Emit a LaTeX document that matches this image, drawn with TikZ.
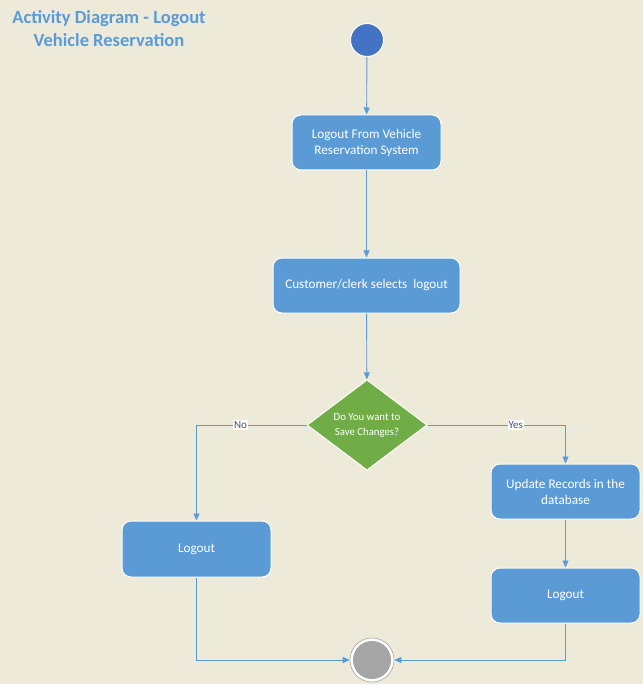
\documentclass[tikz,border=0pt]{standalone}
\usepackage{fontspec}
\setmainfont{Carlito}
\usetikzlibrary{arrows.meta,shapes.geometric}
\definecolor{bg}{HTML}{EDEADA}
\definecolor{boxblue}{HTML}{5B9BD5}
\definecolor{startblue}{HTML}{4472C4}
\definecolor{dgreen}{HTML}{70AD47}
\definecolor{endgray}{HTML}{A5A5A5}
\definecolor{lineblue}{HTML}{5B9BD5}
\definecolor{labelc}{HTML}{44546A}
\tikzset{
  act/.style={draw=white, line width=1pt, fill=boxblue, rounded corners=9pt, text=white, align=center, font=\fontsize{13.2}{16}\selectfont, inner sep=0pt},
  flow/.style={draw=lineblue, line width=0.9pt, -{Triangle[length=7pt,width=6pt]}},
  lbl/.style={fill=white, text=labelc, font=\fontsize{11}{12}\selectfont, inner sep=1pt}
}
\begin{document}
\begin{tikzpicture}[x=1pt,y=-1pt]
\fill[bg] (0,0) rectangle (643,684);
\useasboundingbox (0,0) rectangle (643,684);
\node[text=boxblue, font=\fontsize{18.5}{23}\selectfont\bfseries, align=center] (title) at (109,29) {Activity Diagram - Logout\\Vehicle Reservation};
\node[circle, draw=white, line width=1pt, fill=startblue, minimum size=33pt, inner sep=0pt] (start) at (367,40) {};
\node[act, minimum width=149pt, minimum height=55pt] (b1) at (366.5,142.5) {Logout From Vehicle\\Reservation System};
\node[act, minimum width=187pt, minimum height=55pt] (b2) at (366.5,285.5) {Customer/clerk selects\ \ logout};
\node[diamond, draw=white, line width=1pt, fill=dgreen, minimum width=120pt, minimum height=90pt, inner sep=0pt, text=white, align=center, font=\fontsize{10.8}{15}\selectfont] (dec) at (367,425) {Do You want to\\Save Changes?};
\node[act, minimum width=149pt, minimum height=56pt] (lo1) at (196.5,549) {Logout};
\node[act, minimum width=149pt, minimum height=55pt] (upd) at (565.5,491.5) {Update Records in the\\database};
\node[act, minimum width=149pt, minimum height=55pt] (lo2) at (565.5,595.5) {Logout};
\node[circle, draw=endgray, line width=0.6pt, fill=white, minimum size=44pt, inner sep=0pt] (endo) at (372,660) {};
\node[circle, fill=endgray, minimum size=38pt, inner sep=0pt] (endi) at (372,660) {};
\draw[flow] (start) -- (b1);
\draw[flow] (b1) -- (b2);
\draw[flow] (b2) -- (dec);
\draw[flow] (dec.west) -| node[lbl, pos=0.3] {No} (lo1.north);
\draw[flow] (dec.east) -| node[lbl, pos=0.32] {Yes} (upd.north);
\draw[flow] (upd) -- (lo2);
\draw[flow] (lo1.south) |- (endo.west);
\draw[flow] (lo2.south) |- (endo.east);
\end{tikzpicture}
\end{document}
